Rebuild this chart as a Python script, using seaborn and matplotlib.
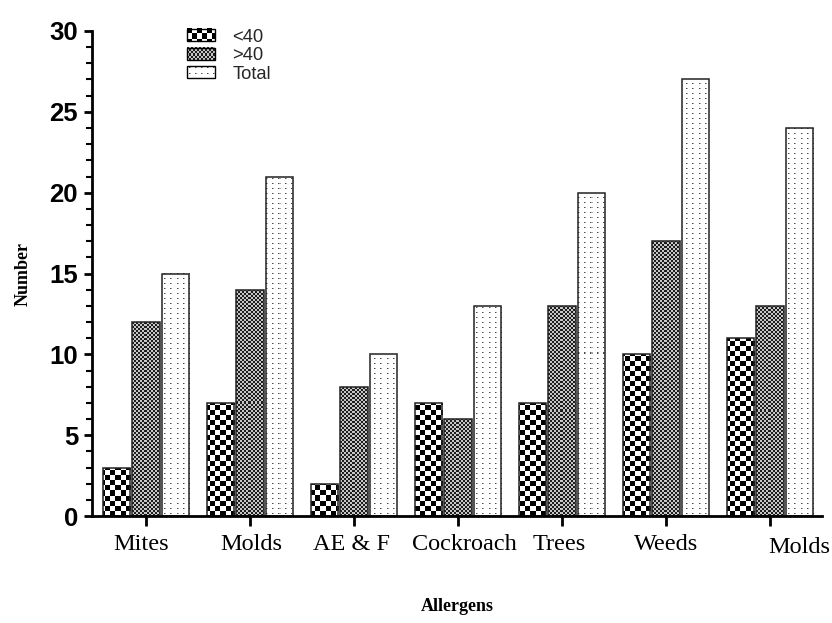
import numpy as np
import pandas as pd
import matplotlib
matplotlib.use("Agg")
import matplotlib.pyplot as plt
import seaborn as sns
from matplotlib.legend_handler import HandlerBase
from matplotlib.image import BboxImage
from matplotlib.transforms import Bbox, TransformedBbox, ScaledTranslation
from matplotlib.patches import Rectangle

# ---------------- data ----------------
categories = ["Mites", "Molds", "AE & F", "Cockroach", "Trees", "Weeds", "Molds"]
groups = ["<40", ">40", "Total"]
under40 = [3, 7, 2, 7, 7, 10, 11]
over40 = [12, 14, 8, 6, 13, 17, 13]
total = [15, 21, 10, 13, 20, 27, 24]

rows = []
for i in range(len(categories)):
    for g, vals in zip(groups, [under40, over40, total]):
        rows.append({"pos": i, "group": g, "value": vals[i]})
df = pd.DataFrame(rows)

# ---------------- style ----------------
sns.set_theme(style="ticks")
plt.rcParams["font.family"] = ["Liberation Sans", "DejaVu Sans"]

DPI = 100
fig = plt.figure(figsize=(8.32, 6.23), dpi=DPI)
ax = fig.add_axes([92 / 832, 1 - 516 / 623, (822 - 92) / 832, (516 - 31) / 623])

sns.barplot(data=df, x="pos", y="value", hue="group", hue_order=groups,
            palette=["white"] * 3, width=0.85, gap=0.07, ax=ax,
            edgecolor="#222222", linewidth=1.1, legend=False, errorbar=None)

ax.set_xlim(-0.52, 6.5)
ax.set_ylim(0, 30)


def texture(kind, w, h, x0=0, y0=0):
    X = (np.arange(w) + x0)[None, :]
    Y = (np.arange(h) + y0)[:, None]
    img = np.ones((h, w, 3))
    if kind == "checker":
        c = ((X // 5) + (Y // 5)) % 2
        v = np.where(c == 0, 0.0, 1.0)
    elif kind == "fine":
        c = ((X // 2) + (Y // 2)) % 2
        v = np.where(c == 0, 0.12, 0.78)
    else:
        v = np.ones((h, w))
        mask = ((X % 6) == 2) & ((Y % 5) == 2)
        v = np.where(mask, 0.3, v)
        mask2 = ((X % 6) == 3) & ((Y % 5) == 2)
        v = np.where(mask2, 0.65, v)
    img = img * v[..., None]
    return img


kinds = {"<40": "checker", ">40": "fine", "Total": "dots"}

fig.canvas.draw()
renderer = fig.canvas.get_renderer()
n = len(categories)
for k, patch in enumerate(ax.patches[: n * len(groups)]):
    g = groups[k // n]
    bb = patch.get_window_extent(renderer)
    w = max(int(round(bb.width)), 1)
    h = max(int(round(bb.height)), 1)
    tex = texture(kinds[g], w, h, int(round(bb.x0)), 0)
    x, y = patch.get_x(), patch.get_y()
    pw, ph = patch.get_width(), patch.get_height()
    im = ax.imshow(tex, extent=(x, x + pw, y, y + ph), origin="lower",
                   interpolation="nearest", aspect="auto", zorder=patch.get_zorder() - 0.1)
    im.set_clip_path(patch)
    patch.set_facecolor("none")

ax.set_xlim(-0.52, 6.5)
ax.set_ylim(0, 30)


class TexHandler(HandlerBase):
    def __init__(self, kind):
        super().__init__()
        self.kind = kind

    def create_artists(self, legend, orig_handle, xdescent, ydescent,
                       width, height, fontsize, trans):
        bb = Bbox.from_bounds(-xdescent, -ydescent, width, height)
        tbb = TransformedBbox(bb, trans)
        img = BboxImage(tbb, interpolation="nearest")
        img.set_data(texture(self.kind, 28, 12))
        rect = Rectangle((-xdescent, -ydescent), width, height, fill=False,
                         edgecolor="black", linewidth=1.0, transform=trans)
        return [img, rect]


handles = [Rectangle((0, 0), 1, 1) for _ in groups]
ax.legend(handles, groups, loc="upper left", bbox_to_anchor=(0.12, 1.02),
          frameon=False, fontsize=13.2, handlelength=1.52, handleheight=0.65,
          labelspacing=0.08, handletextpad=0.95, borderaxespad=0,
          handler_map={h: TexHandler(kinds[g]) for h, g in zip(handles, groups)})

# ---------------- axes styling ----------------
sns.despine(ax=ax)
for s in ["left", "bottom"]:
    ax.spines[s].set_linewidth(2)
    ax.spines[s].set_color("black")

ax.set_yticks(range(0, 31, 5))
ax.set_yticks(range(0, 31, 1), minor=True)
ax.tick_params(axis="y", which="major", length=6, width=2, labelsize=18.5, pad=4, colors="black")
ax.tick_params(axis="y", which="minor", length=4, width=1.5, colors="black")
for lab in ax.get_yticklabels():
    lab.set_fontweight("bold")

ax.set_xticks(range(len(categories)))
ax.set_xticklabels(categories)
ax.tick_params(axis="x", which="major", length=7, width=2, pad=6, colors="black")
label_dx = [-4.5, 1, -3, 6, -3, 0, 29]
label_dy = [0, 0, 0, 0, 0, 0, -3]
for lab, dx, dy in zip(ax.get_xticklabels(), label_dx, label_dy):
    lab.set_fontfamily("Liberation Serif")
    lab.set_fontsize(17.5)
    lab.set_transform(lab.get_transform() +
                      ScaledTranslation(dx / DPI, dy / DPI, fig.dpi_scale_trans))

ax.set_ylabel("Number", fontfamily="Liberation Serif", fontweight="bold",
              fontsize=13, color="black")
ax.yaxis.set_label_coords(-0.083, 0.5)
ax.set_xlabel("Allergens", fontfamily="Liberation Serif", fontweight="bold",
              fontsize=13, color="black")
ax.xaxis.set_label_coords(0.5, -0.17)

fig.savefig("out.png", dpi=DPI)
